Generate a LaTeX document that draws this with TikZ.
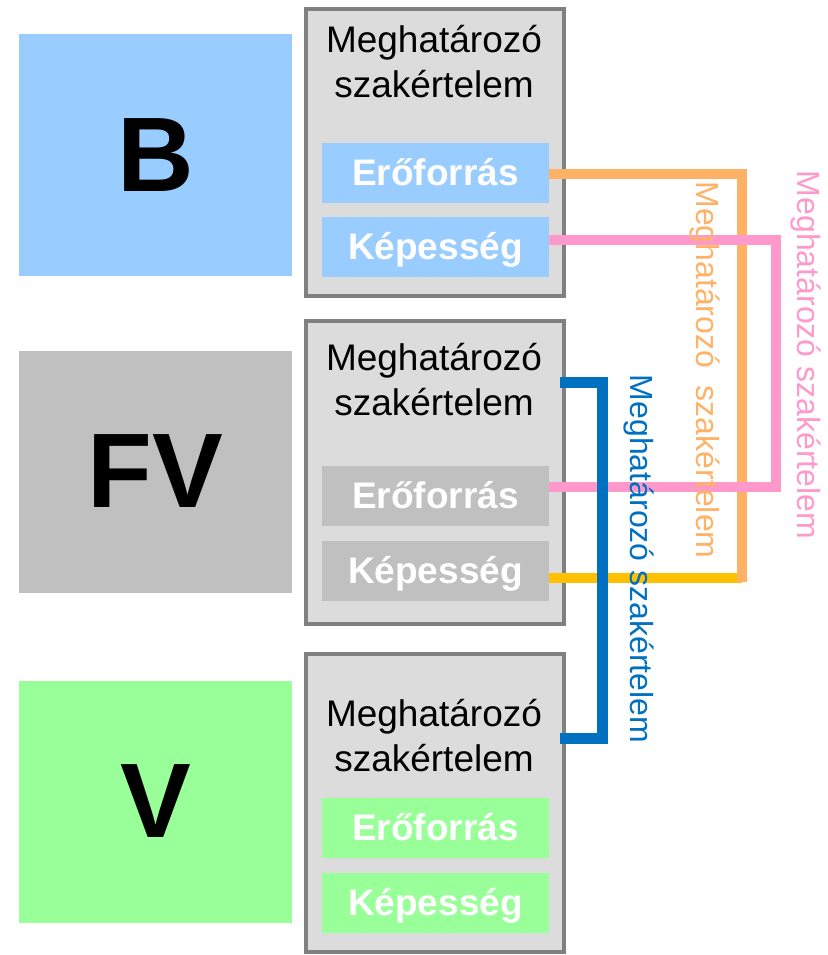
\documentclass[tikz,border=0pt]{standalone}
\usepackage{fontspec}
\setmainfont{Liberation Sans}
\usetikzlibrary{calc}
\definecolor{bBlue}{HTML}{99CCFF}
\definecolor{fvGray}{HTML}{C0C0C0}
\definecolor{vGreen}{HTML}{99FF99}
\definecolor{contFill}{HTML}{DCDCDC}
\definecolor{contLine}{HTML}{808080}
\definecolor{lnOrange}{HTML}{FFB266}
\definecolor{lnPink}{HTML}{FF99CC}
\definecolor{lnYellow}{HTML}{FFC000}
\definecolor{lnBlue}{HTML}{0070C0}
\begin{document}
\begin{tikzpicture}[x=1pt,y=-1pt,
  bigbox/.style={minimum width=273pt,minimum height=242pt,inner sep=0pt,
    font=\fontsize{106}{110}\selectfont\bfseries},
  container/.style={draw=contLine,line width=4pt,fill=contFill,
    minimum width=258pt,inner sep=0pt},
  headtxt/.style={align=center,inner sep=0pt,font=\fontsize{37}{45}\selectfont},
  subbox/.style={minimum width=227pt,minimum height=60pt,inner sep=0pt,
    text height=27pt,text depth=2pt,
    text=white,font=\fontsize{37}{40}\selectfont\bfseries},
  link/.style={line width=10pt},
  vlabel/.style={rotate=-90,inner sep=0pt,font=\fontsize{32}{38}\selectfont}
]
\useasboundingbox (0,0) rectangle (827,955);

% big letter boxes
\node[bigbox,fill=bBlue]  (bBig)  at (155.5,155) {B};
\node[bigbox,fill=fvGray] (fvBig) at (155.5,471.5) {FV};
\node[bigbox,fill=vGreen] (vBig)  at (155.5,801.5) {V};

% containers
\node[container,minimum height=287pt] (bCont)  at (435,152.5) {};
\node[container,minimum height=303pt] (fvCont) at (435,472.5) {};
\node[container,minimum height=298pt] (vCont)  at (435,803) {};

% header texts
\node[headtxt] (bTxt)  at (434,61.75)  {Meghatározó\\szakértelem};
\node[headtxt] (fvTxt) at (434,380)    {Meghatározó\\szakértelem};
\node[headtxt] (vTxt)  at (434,736)    {Meghatározó\\szakértelem};

% sub boxes
\node[subbox,fill=bBlue]  (bEro)  at (435.5,172.5) {Erőforrás};
\node[subbox,fill=bBlue]  (bKep)  at (435.5,247)   {Képesség};
\node[subbox,fill=fvGray] (fvEro) at (435.5,496)   {Erőforrás};
\node[subbox,fill=fvGray] (fvKep) at (435.5,571)   {Képesség};
\node[subbox,fill=vGreen] (vEro)  at (435.5,827.5) {Erőforrás};
\node[subbox,fill=vGreen] (vKep)  at (435.5,903)   {Képesség};

% connector corner coordinates
\coordinate (oT) at (742,174);
\coordinate (oB) at (742,578);
\coordinate (pT) at (776,240);
\coordinate (pB) at (776,487);
\coordinate (uT) at (602,382);
\coordinate (uB) at (602,738);

% connectors
\draw[link,lnYellow] (fvKep.east |- oB) -- (oB);
\draw[link,lnOrange] (bEro.east |- oT) -- (oT) -- ([yshift=-4pt]oB);
\draw[link,lnPink] (bKep.east |- pT) -- (pT) -- (pB) -- (fvEro.east |- pB);
\draw[link,line width=11pt,lnBlue] ([xshift=-6pt]fvCont.east |- uT) -- (uT) -- (uB) -- ([xshift=-6pt]vCont.east |- uB);

% rotated labels
\node[vlabel,text=lnOrange] (oLab) at (705,370) {Meghatározó\ \ szakértelem};
\node[vlabel,text=lnPink]   (pLab) at (806,355) {Meghatározó szakértelem};
\node[vlabel,text=lnBlue]   (uLab) at (639,559) {Meghatározó szakértelem};
\end{tikzpicture}
\end{document}
